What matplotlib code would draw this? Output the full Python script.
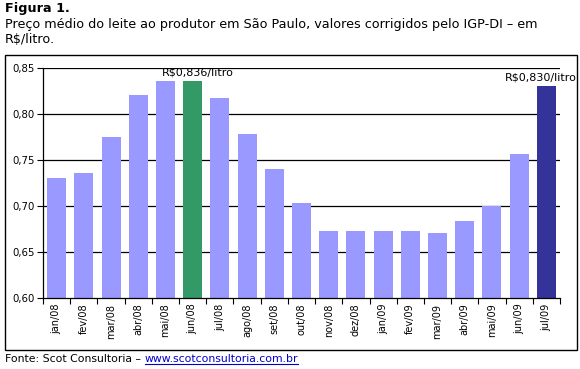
import matplotlib
matplotlib.use("Agg")
import matplotlib.pyplot as plt
from matplotlib.patches import Rectangle
from matplotlib.lines import Line2D
import numpy as np

months = ["jan/08", "fev/08", "mar/08", "abr/08", "mai/08", "jun/08", "jul/08", "ago/08",
          "set/08", "out/08", "nov/08", "dez/08", "jan/09", "fev/09", "mar/09", "abr/09",
          "mai/09", "jun/09", "jul/09"]
values = [0.730, 0.736, 0.775, 0.821, 0.836, 0.836, 0.817, 0.778, 0.740, 0.703,
          0.673, 0.673, 0.673, 0.673, 0.671, 0.684, 0.700, 0.757, 0.830]
yticks = [0.60, 0.65, 0.70, 0.75, 0.80, 0.85]
annot = {5: "R\\$0,836/litro", 18: "R\\$0,830/litro"}

light, green, dark = "#9999FF", "#339966", "#333399"
colors = [light] * len(values)
colors[5] = green
colors[18] = dark

plt.rcParams['font.family'] = ['DejaVu Sans']
W, H = 580, 369
fig = plt.figure(figsize=(W / 100, H / 100), dpi=100)
fig.patch.set_facecolor("white")

# chart border box
fig.add_artist(Rectangle((5 / W, 1 - 350 / H), 572 / W, 295 / H, transform=fig.transFigure,
                         fill=False, edgecolor="black", linewidth=1.0))

ax = fig.add_axes([43 / W, 1 - 298 / H, 517 / W, 230 / H])
x = np.arange(len(values))
ax.bar(x, values, width=0.7, color=colors, zorder=3)
ax.set_xlim(-0.5, len(values) - 0.5)
ax.set_ylim(0.60, 0.85)
ax.set_yticks(yticks)
ax.set_yticklabels([f"{v:.2f}".replace(".", ",") for v in yticks], fontsize=7.3)
for v in yticks[1:]:
    ax.axhline(v, color="black", linewidth=0.9, zorder=1)
ax.set_xticks(x)
ax.set_xticklabels(months, rotation=90, fontsize=7)
ax.tick_params(axis="x", length=0, pad=4)
ax.set_xticks(np.arange(len(values) + 1) - 0.5, minor=True)
ax.tick_params(axis="x", which="minor", length=4, direction="out", width=0.8)
ax.tick_params(axis="y", length=4, direction="out", width=0.8, pad=2)
for s in ["top", "right"]:
    ax.spines[s].set_visible(False)
for s in ["left", "bottom"]:
    ax.spines[s].set_linewidth(0.9)
    ax.spines[s].set_zorder(4)

offsets = {5: 0.2, 18: -0.2}
for i, t in annot.items():
    ax.text(i + offsets[i], values[i] + 0.004, t, ha="center", va="bottom", fontsize=8,
            clip_on=False, zorder=5)

fig.text(5 / W, 1 - 12 / H, "Figura 1.", fontsize=9.2, fontweight="bold", va="baseline")
fig.text(5 / W, 1 - 28 / H, "Preço médio do leite ao produtor em São Paulo, valores corrigidos pelo IGP-DI – em",
         fontsize=9.2, va="baseline")
fig.text(5 / W, 1 - 43 / H, "R$/litro.", fontsize=9.2, va="baseline")

t1 = fig.text(5 / W, 1 - 362 / H, "Fonte: Scot Consultoria – ", fontsize=7.8, va="baseline")
fig.canvas.draw()
r = fig.canvas.get_renderer()
bb = t1.get_window_extent(r)
x2 = bb.x1 / W
t2 = fig.text(x2, 1 - 362 / H, "www.scotconsultoria.com.br", fontsize=7.8, va="baseline", color="#0000CC")
bb2 = t2.get_window_extent(r)
yl = (H - 364) / H
fig.add_artist(Line2D([bb2.x0 / W, bb2.x1 / W], [yl, yl], transform=fig.transFigure,
                      color="#0000CC", linewidth=0.8))

fig.savefig("out.png", dpi=100)
